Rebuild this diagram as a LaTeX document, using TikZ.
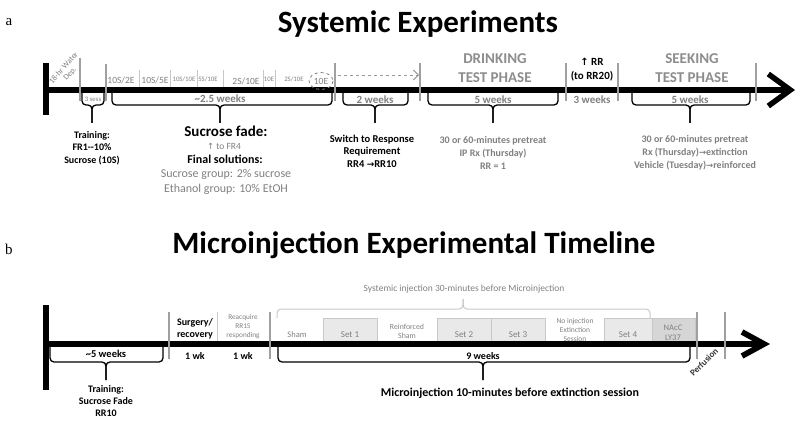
\documentclass[tikz,border=0pt]{standalone}
\usepackage{fontspec}
\setmainfont{Carlito}
\newfontfamily\symf{DejaVu Sans}
\newfontfamily\serifl{Liberation Serif}
\usetikzlibrary{arrows.meta}
\definecolor{tickg}{RGB}{160,160,160}
\definecolor{sepg}{RGB}{200,200,200}
\definecolor{txtg}{RGB}{128,128,128}
\definecolor{boxf}{RGB}{233,233,233}
\definecolor{boxd}{RGB}{200,200,200}
\definecolor{nacf}{RGB}{214,214,214}
\newcommand\fsz[2]{\fontsize{#1}{#2}\selectfont}
\newcommand\tlbrace[6]{%
  \draw[bracestyle] (#1,#4) -- (#1,#5) -- (#3,#5) -- (#3,#6);
  \draw[bracestyle] (#2,#4) -- (#2,#5) -- (#3,#5) -- (#3,#6);}
\tikzset{
  bracestyle/.style={line width=1.3pt, rounded corners=4pt},
  gtick/.style={draw=tickg, line width=2.5pt},
  sepline/.style={draw=sepg, line width=0.8pt},
  titlestyle/.style={font=\fsz{31}{34}\bfseries, inner sep=0},
  panel/.style={font=\serifl\fsz{15}{16}, inner sep=0},
  bk/.style={font=\fsz{10}{12.3}\bfseries, align=center, inner sep=0},
  gb/.style={font=\fsz{10}{13.2}\bfseries, text=txtg, align=center, inner sep=0},
  gr/.style={font=\fsz{9.5}{11}, text=txtg, align=center, inner sep=0},
  tiny/.style={font=\fsz{6.8}{8.8}, text=txtg, align=center, inner sep=0},
  phase/.style={font=\fsz{15}{18.5}\bfseries, text=txtg!90, align=center, inner sep=0},
  setbox/.style={draw=boxd, fill=boxf, line width=0.7pt},
}
\begin{document}
\begin{tikzpicture}[x=1pt,y=-1pt]
\useasboundingbox (0,0) rectangle (800,422);
% ---------------- panel a
\node[panel] (pa) at (9,22) {a};
\node[titlestyle] (ta) at (418,24) {Systemic Experiments};
\draw[line width=6pt] (46,63) -- (46,115);
\draw[line width=5.5pt, -{Straight Barb[length=22pt,width=32pt]}] (46,90) -- (795,90);
\foreach \x/\ya in {80/58,106/64,335/63,420/63,566/63,618/63,756/63}
  \draw[gtick] (\x,\ya) -- (\x,101);
\foreach \x in {139,170,197,223,263,275}
  \draw[sepline] (\x,70) -- (\x,87);
\node[font=\fsz{8}{8.5}, text=txtg, rotate=48, align=center, inner sep=0] (wd) at (67,71) {18-hr Water\\Dep.};
\node[gr] (f1) at (121,80) {10S/2E};
\node[gr] (f2) at (155,80) {10S/5E};
\node[tiny] (f3) at (184,79) {10S/10E};
\node[tiny] (f4) at (208,79) {5S/10E};
\node[gr] (f5) at (246,81) {2S/10E};
\node[tiny] (f6) at (269,79) {10E};
\node[tiny] (f7) at (294,79) {2S/10E};
\node[gr] (f8) at (321,81) {10E};
\draw[draw=txtg, dashed, line width=0.8pt] (f8) ellipse [x radius=12, y radius=8.5];
\coordinate (da) at (338,75);
\coordinate (db) at (419,75);
\draw[draw=txtg!80, dashed, line width=0.9pt, -{Straight Barb[length=5pt,width=10pt]}] (da) -- (db);
% brackets
\tlbrace{82}{104}{92}{93}{105}{123}
\node[tiny] (s3) at (93,99) {3 sess};
\node[bk] (tr) at (92,148) {Training:\\FR1-{}-10\%\\Sucrose (10S)};
\tlbrace{112}{332}{220}{93}{105}{123}
\node[gb, font=\fsz{11}{13}\bfseries] (w25) at (220,99) {\textasciitilde2.5 weeks};
\node[font=\fsz{15}{16}\bfseries, inner sep=0] (sf) at (226,131) {Sucrose fade:};
\node[gr] (fr4) at (224,146) {{\symf\fsz{8.5}{9}↑} to FR4};
\node[font=\fsz{12}{13}\bfseries, inner sep=0] (fs) at (225,159) {Final solutions:};
\node[font=\fsz{12}{13}, text=txtg, inner sep=0] (sg) at (226,174) {Sucrose group: 2\% sucrose};
\node[font=\fsz{12}{13}, text=txtg, inner sep=0] (eg) at (226,189) {Ethanol group: 10\% EtOH};
\tlbrace{343}{408}{375}{93}{105}{123}
\node[gb, font=\fsz{11}{13}\bfseries] (w2) at (375,100) {2 weeks};
\node[bk, font=\fsz{10.5}{12.5}\bfseries] (sw) at (372,151) {Switch to Response\\Requirement\\RR4 {\symf\fsz{9}{9}→}RR10};
\node[phase] (dp) at (495,68) {DRINKING\\TEST PHASE};
\tlbrace{428}{558}{493}{93}{105}{123}
\node[gb, font=\fsz{11}{13}\bfseries] (w5a) at (493,100) {5 weeks};
\node[gb] (dpt) at (493,153) {30 or 60-minutes pretreat\\IP Rx (Thursday)\\RR = 1};
\node[bk, font=\fsz{11}{14}\bfseries] (rr) at (592,70) {{\symf\bfseries\fsz{10}{10}↑} RR\\(to RR20)};
\node[gb, font=\fsz{11}{13}\bfseries] (w3) at (592,100) {3 weeks};
\node[phase] (sp) at (692,68) {SEEKING\\TEST PHASE};
\tlbrace{632}{750}{690}{93}{105}{123}
\node[gb, font=\fsz{11}{13}\bfseries] (w5b) at (690,100) {5 weeks};
\node[gb] (spt) at (695,153) {30 or 60-minutes pretreat\\Rx (Thursday){\symf\fsz{8.5}{9}→}extinction\\Vehicle (Tuesday){\symf\fsz{8.5}{9}→}reinforced};
% ---------------- panel b
\node[panel] (pb) at (9,249) {b};
\node[titlestyle] (tb) at (414,245) {Microinjection Experimental Timeline};
% boxes
\draw[setbox] (323,318) rectangle (377,341);
\draw[setbox] (437,318) rectangle (491,341);
\draw[setbox] (491,318) rectangle (545,341);
\draw[setbox] (604,318) rectangle (652,341);
\draw[setbox, fill=nacf] (652,318) rectangle (695,341);
% systemic injection bracket (gray, upward)
\draw[draw=sepg, line width=1pt, rounded corners=4pt] (277,318) -- (277,309) -- (463,309) -- (463,299);
\draw[draw=sepg, line width=1pt, rounded corners=4pt] (650,318) -- (650,309) -- (463,309) -- (463,299);
\node[font=\fsz{9.5}{11}, text=txtg, inner sep=0] (si) at (464,289) {Systemic injection 30-minutes before Microinjection};
\node[font=\fsz{8.5}{10}, text=txtg, inner sep=0] (b1) at (297,335) {Sham};
\node[font=\fsz{9}{10}, text=txtg, inner sep=0] (b2) at (350,335) {Set 1};
\node[font=\fsz{7.8}{9}, text=txtg, align=center, inner sep=0] (b3) at (407,331) {Reinforced\\Sham};
\node[font=\fsz{9}{10}, text=txtg, inner sep=0] (b4) at (464,335) {Set 2};
\node[font=\fsz{9}{10}, text=txtg, inner sep=0] (b5) at (518,335) {Set 3};
\node[font=\fsz{7.5}{9}, text=txtg, align=center, inner sep=0] (b6) at (575,330) {No injection\\Extinction\\Session};
\node[font=\fsz{9}{10}, text=txtg, inner sep=0] (b7) at (628,335) {Set 4};
\node[font=\fsz{8.5}{10}, text=txtg, align=center, inner sep=0] (b8) at (673,333) {NAcC\\LY37};
% line
\draw[line width=6pt] (46,305) -- (46,390);
\draw[line width=5.7pt, -{Straight Barb[length=22pt,width=24pt]}] (46,344) -- (770,344);
\foreach \x in {169,270,697,725}
  \draw[gtick] (\x,312) -- (\x,359);
\draw[sepline] (217,312) -- (217,341);
\node[bk] (sr) at (195,329) {Surgery/\\recovery};
\node[font=\fsz{7.3}{9}, text=txtg, align=center, inner sep=0] (rq) at (243,327) {Reacquire\\RR15\\responding};
\node[bk] (wk1) at (195,356) {1 wk};
\node[bk] (wk2) at (243,356) {1 wk};
\tlbrace{50}{163}{106}{347}{362}{380}
\node[bk, font=\fsz{10.5}{12}\bfseries] (w5c) at (106,354) {\textasciitilde5 weeks};
\node[bk] (trb) at (106,401) {Training:\\Sucrose Fade\\RR10};
\tlbrace{278}{690}{483}{347}{362}{380}
\node[bk] (w9) at (483,356) {9 weeks};
\node[font=\fsz{12}{13}\bfseries, inner sep=0] (mi) at (510,393) {Microinjection 10-minutes before extinction session};
\node[font=\fsz{9}{10}\bfseries, text=black!80, rotate=45, inner sep=0] (pf) at (704,362) {Perfusion};
\end{tikzpicture}
\end{document}
